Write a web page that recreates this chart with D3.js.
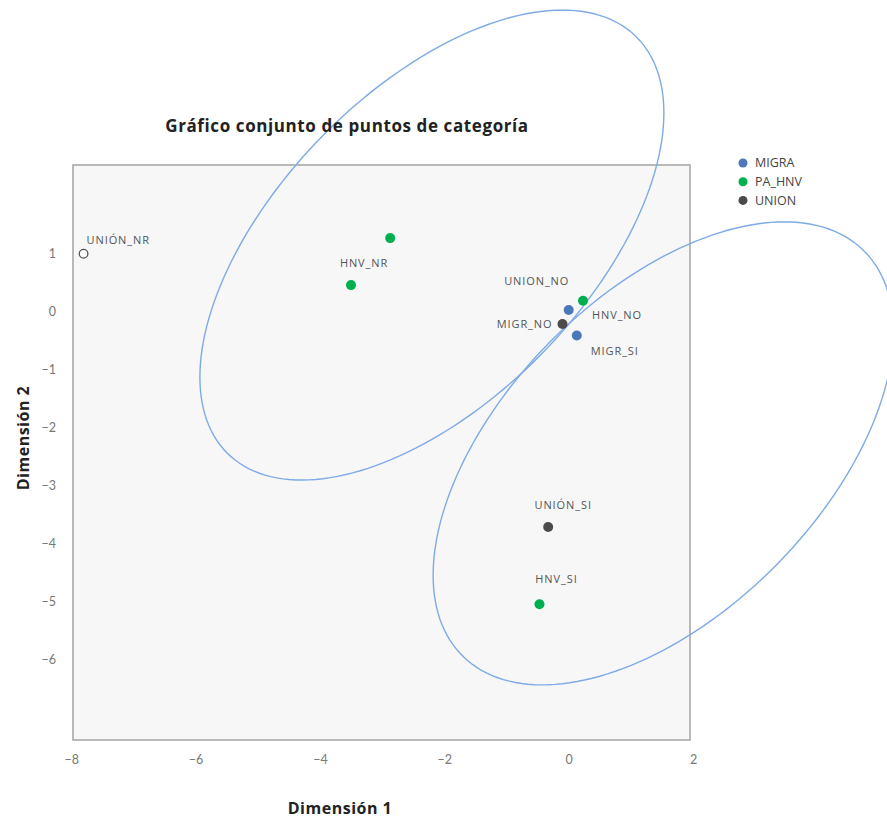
<!DOCTYPE html>
<html>
<head>
<meta charset="utf-8">
<script src="https://cdn.jsdelivr.net/npm/d3@7"></script>
<style>
  html, body { margin: 0; padding: 0; background: #ffffff; }
  svg { display: block; }
</style>
</head>
<body>
<script>
// ---------------- DATA ----------------
const seriesNames = ["MIGRA", "PA_HNV", "UNION"];
const seriesColors = ["#4a78b8", "#00b04f", "#4b4b4b"];

// category points (Dimensión 1, Dimensión 2)
const pointLabels = ["UNIÓN_NR", "", "HNV_NR", "HNV_NO", "UNION_NO", "MIGR_NO", "MIGR_SI", "UNIÓN_SI", "HNV_SI"];
const pointSeries = ["UNION", "PA_HNV", "PA_HNV", "PA_HNV", "MIGRA", "UNION", "MIGRA", "UNION", "PA_HNV"];
const pointDim1   = [-7.80, -2.87, -3.50, 0.23, 0.00, -0.10, 0.13, -0.33, -0.47];
const pointDim2   = [ 1.00,  1.27,  0.46, 0.19, 0.03, -0.21, -0.41, -3.71, -5.04];
const pointHollow = [true, false, false, false, false, false, false, false, false];

// ellipses (centre, spread, correlation) in data units
const ellipseCx  = [-2.20, 1.52];
const ellipseCy  = [ 1.15, -2.44];
const ellipseSx  = [ 3.73, 3.70];
const ellipseSy  = [ 4.05, 3.99];
const ellipseRho = [ 0.562, 0.526];

const xTicks = [-8, -6, -4, -2, 0, 2];
const yTicks = [1, 0, -1, -2, -3, -4, -5, -6];
const xDomain = [-7.97, 1.95];
const yDomain = [-7.38, 2.53];

const title = "Gráfico conjunto de puntos de categoría";
const xTitle = "Dimensión 1";
const yTitle = "Dimensión 2";

// ---------------- LAYOUT ----------------
const W = 887, H = 821;
const box = { left: 73, right: 690, top: 165, bottom: 740 };
// label placement relative to point (px)
const labelLayout = [
  { dx: 3, dy: -14, anchor: "start" },
  null,
  { dx: 13, dy: -22, anchor: "middle" },
  { dx: 34, dy: 14, anchor: "middle" },
  { dx: -32, dy: -29, anchor: "middle" },
  { dx: -10, dy: 0, anchor: "end" },
  { dx: 38, dy: 16, anchor: "middle" },
  { dx: 15, dy: -22, anchor: "middle" },
  { dx: 17, dy: -25, anchor: "middle" }
];

const svg = d3.select("body").append("svg").attr("width", W).attr("height", H);

const x = d3.scaleLinear().domain(xDomain).range([box.left, box.right]);
const y = d3.scaleLinear().domain(yDomain).range([box.bottom, box.top]);
const color = d3.scaleOrdinal().domain(seriesNames).range(seriesColors);

// plot box
svg.append("rect")
  .attr("x", box.left).attr("y", box.top)
  .attr("width", box.right - box.left).attr("height", box.bottom - box.top)
  .attr("fill", "#f7f7f7").attr("stroke", "#a9a9a9").attr("stroke-width", 1.6);

// axes (labels only, no tick lines)
const xAxis = d3.axisBottom(x).tickValues(xTicks).tickSize(0).tickPadding(0).tickFormat(d3.format("d"));
const gx = svg.append("g").attr("transform", `translate(0,${box.bottom + 15})`).call(xAxis);
gx.select(".domain").remove();
gx.selectAll("text").attr("fill", "#777").style("font-family", "Lato, 'Open Sans', sans-serif").style("font-size", "12.5px");

const yAxis = d3.axisLeft(y).tickValues(yTicks).tickSize(0).tickPadding(0).tickFormat(d3.format("d"));
const gy = svg.append("g").attr("transform", `translate(${box.left - 17},0)`).call(yAxis);
gy.select(".domain").remove();
gy.selectAll("text").attr("fill", "#777").style("font-family", "Lato, 'Open Sans', sans-serif").style("font-size", "12.5px");

// ellipses
const tSteps = d3.range(0, 360, 2).map(d => d * Math.PI / 180);
const line = d3.line().x(d => x(d[0])).y(d => y(d[1])).curve(d3.curveLinearClosed);
ellipseCx.forEach((cx, i) => {
  const sx = ellipseSx[i], sy = ellipseSy[i], r = ellipseRho[i];
  const pts = tSteps.map(t => [
    cx + sx * Math.cos(t),
    ellipseCy[i] + sy * (r * Math.cos(t) + Math.sqrt(1 - r * r) * Math.sin(t))
  ]);
  svg.append("path").attr("d", line(pts))
    .attr("fill", "none").attr("stroke", "#7eaae6").attr("stroke-width", 1.4);
});

// points
const pts = pointDim1.map((d, i) => ({
  x: d, y: pointDim2[i], s: pointSeries[i], label: pointLabels[i], hollow: pointHollow[i], lay: labelLayout[i]
}));
svg.append("g").selectAll("circle").data(pts).join("circle")
  .attr("cx", d => x(d.x)).attr("cy", d => y(d.y))
  .attr("r", d => d.hollow ? 4.3 : 5)
  .attr("fill", d => d.hollow ? "#ffffff" : color(d.s))
  .attr("stroke", d => d.hollow ? "#555" : "none")
  .attr("stroke-width", 1.3);

svg.append("g").selectAll("text").data(pts.filter(d => d.label)).join("text")
  .attr("x", d => x(d.x) + d.lay.dx).attr("y", d => y(d.y) + d.lay.dy)
  .attr("dy", "0.35em")
  .attr("text-anchor", d => d.lay.anchor)
  .attr("fill", "#555")
  .style("font-family", "'Open Sans', sans-serif").style("font-size", "11px")
  .style("letter-spacing", "0.9px")
  .text(d => d.label);

// title
svg.append("text").attr("x", 347).attr("y", 126).attr("dy", "0.35em")
  .attr("text-anchor", "middle").attr("fill", "#222")
  .style("font-family", "'Open Sans', sans-serif").style("font-weight", "700").style("font-size", "17px")
  .style("letter-spacing", "0.6px")
  .text(title);

// axis titles
svg.append("text").attr("x", 340).attr("y", 808).attr("dy", "0.35em")
  .attr("text-anchor", "middle").attr("fill", "#222")
  .style("font-family", "'Open Sans', sans-serif").style("font-weight", "700").style("font-size", "16px")
  .style("letter-spacing", "0.5px")
  .text(xTitle);
svg.append("text").attr("transform", "translate(23,438) rotate(-90)").attr("dy", "0.35em")
  .attr("text-anchor", "middle").attr("fill", "#222")
  .style("font-family", "'Open Sans', sans-serif").style("font-weight", "700").style("font-size", "16px")
  .style("letter-spacing", "0.5px")
  .text(yTitle);

// legend
const lg = svg.append("g").attr("transform", "translate(743,163)");
seriesNames.forEach((s, i) => {
  const g = lg.append("g").attr("transform", `translate(0,${i * 18.7})`);
  g.append("circle").attr("r", 4.5).attr("fill", color(s));
  g.append("text").attr("x", 12).attr("dy", "0.35em").attr("fill", "#444")
    .style("font-family", "'Open Sans', sans-serif").style("font-size", "12.5px")
    .text(s);
});
</script>
</body>
</html>
